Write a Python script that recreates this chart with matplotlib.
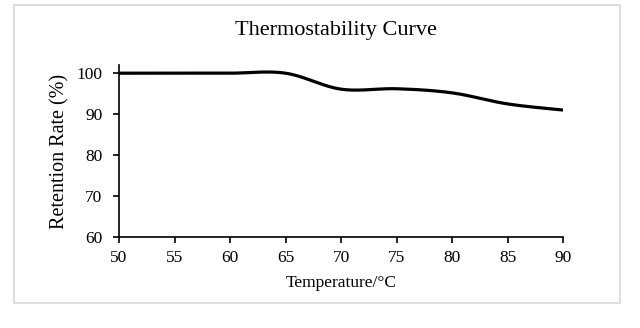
import numpy as np
import matplotlib.pyplot as plt
from matplotlib.patches import Rectangle

temperature = [50, 55, 60, 65, 70, 75, 80, 85, 90]
retention = [100, 100, 100, 100, 96.1, 96.2, 95.2, 92.5, 91.0]
x_ticks = [50, 55, 60, 65, 70, 75, 80, 85, 90]
y_ticks = [60, 70, 80, 90, 100]


def excel_smooth(x, y, n=40):
    # Catmull-Rom style bezier, similar to Excel's "smoothed line"
    x = np.asarray(x, float)
    y = np.asarray(y, float)
    px = np.concatenate([[x[0]], x, [x[-1]]])
    py = np.concatenate([[y[0]], y, [y[-1]]])
    xs, ys = [], []
    t = np.linspace(0, 1, n)
    for i in range(1, len(px) - 2):
        p0 = np.array([px[i], py[i]])
        p3 = np.array([px[i + 1], py[i + 1]])
        c1 = p0 + (p3 - np.array([px[i - 1], py[i - 1]])) / 6
        c2 = p3 - (np.array([px[i + 2], py[i + 2]]) - p0) / 6
        pts = ((1 - t) ** 3)[:, None] * p0 + (3 * (1 - t) ** 2 * t)[:, None] * c1 \
            + (3 * (1 - t) * t ** 2)[:, None] * c2 + (t ** 3)[:, None] * p3
        xs.append(pts[:, 0])
        ys.append(pts[:, 1])
    return np.concatenate(xs), np.concatenate(ys)


plt.rcParams['font.family'] = ['Liberation Serif', 'DejaVu Serif']

fig = plt.figure(figsize=(6.4, 3.28), dpi=100)
fig.patches.append(Rectangle((14 / 640, 1 - 303 / 328), (620 - 14) / 640, (303 - 5) / 328,
                             transform=fig.transFigure, fill=False,
                             edgecolor='#d9d9d9', linewidth=1.2))
ax = fig.add_axes([119 / 640, 1 - 237 / 328, (563 - 119) / 640, (237 - 65) / 328])

sx, sy = excel_smooth(temperature, retention)
ax.plot(sx, sy, color='black', linewidth=2.3, solid_capstyle='butt')

ax.set_xlim(50, 90)
ax.set_ylim(60, 102)
ax.set_xticks(x_ticks)
ax.set_yticks(y_ticks)
ax.spines['top'].set_visible(False)
ax.spines['right'].set_visible(False)
ax.spines['left'].set_linewidth(1.2)
ax.spines['bottom'].set_linewidth(1.2)
ax.tick_params(direction='out', length=4, width=1.2, labelsize=12.5)
ax.tick_params(axis='x', pad=5)
ax.tick_params(axis='y', pad=8)

ax.set_xlabel('Temperature/°C', fontsize=12.5, labelpad=7)
ax.set_ylabel('Retention Rate (%)', fontsize=14.5, labelpad=5)
fig.text(336 / 640, 1 - 30 / 328, 'Thermostability Curve', fontsize=16,
         ha='center', va='center')

fig.savefig('out.png', dpi=100)
